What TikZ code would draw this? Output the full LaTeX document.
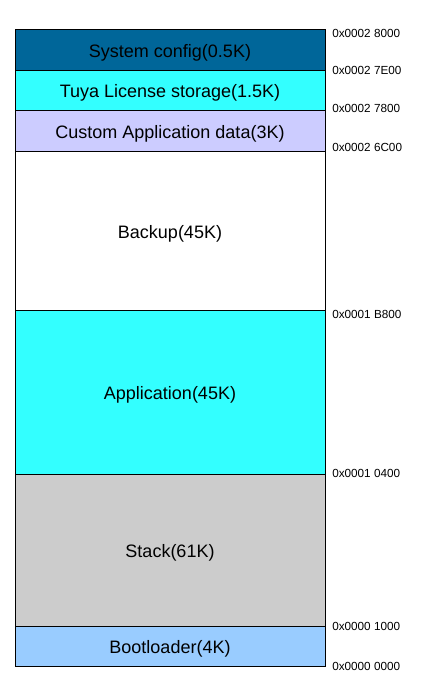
\documentclass[tikz,border=0pt]{standalone}
\usepackage{fontspec}
\setmainfont{Liberation Sans}
\definecolor{sysblue}{HTML}{006699}
\definecolor{licyan}{HTML}{33FFFF}
\definecolor{custlav}{HTML}{CCCCFF}
\definecolor{stackgray}{HTML}{CCCCCC}
\definecolor{bootblue}{HTML}{99CCFF}
\begin{document}
\begin{tikzpicture}[x=0.75pt,y=-0.75pt,
  blk/.style={draw,line width=0.75pt,minimum width=232.5pt,minimum height=#1,
    anchor=north west,inner sep=0pt,outer sep=0pt,text height=11.5pt,text depth=0pt,
    font=\fontsize{13.5}{16}\selectfont},
  addr/.style={anchor=west,inner sep=0pt,font=\fontsize{8.8}{10}\selectfont}]
\useasboundingbox (0,0) rectangle (445,697);
% memory blocks, top to bottom
\node[blk=30.75pt,fill=sysblue] (sys) at (15,29) {System config(0.5K)};
\node[blk=30pt,fill=licyan] (lic) at (15,70) {Tuya License storage(1.5K)};
\node[blk=30.75pt,fill=custlav] (cust) at (15,110) {Custom Application data(3K)};
\node[blk=119.25pt,fill=white] (bak) at (15,151) {Backup(45K)};
\node[blk=123pt,fill=licyan] (app) at (15,310) {Application(45K)};
\node[blk=114pt,fill=stackgray] (stk) at (15,474) {Stack(61K)};
\node[blk=30pt,fill=bootblue] (boot) at (15,626) {Bootloader(4K)};
% addresses
\node[addr] (a28000) at (332,33) {0x0002 8000};
\node[addr] (a27E00) at (332,70) {0x0002 7E00};
\node[addr] (a27800) at (332,108) {0x0002 7800};
\node[addr] (a26C00) at (332,147) {0x0002 6C00};
\node[addr] (a1B800) at (332,314) {0x0001 B800};
\node[addr] (a10400) at (332,473) {0x0001 0400};
\node[addr] (a01000) at (332,626) {0x0000 1000};
\node[addr] (a00000) at (332,666) {0x0000 0000};
\end{tikzpicture}
\end{document}
